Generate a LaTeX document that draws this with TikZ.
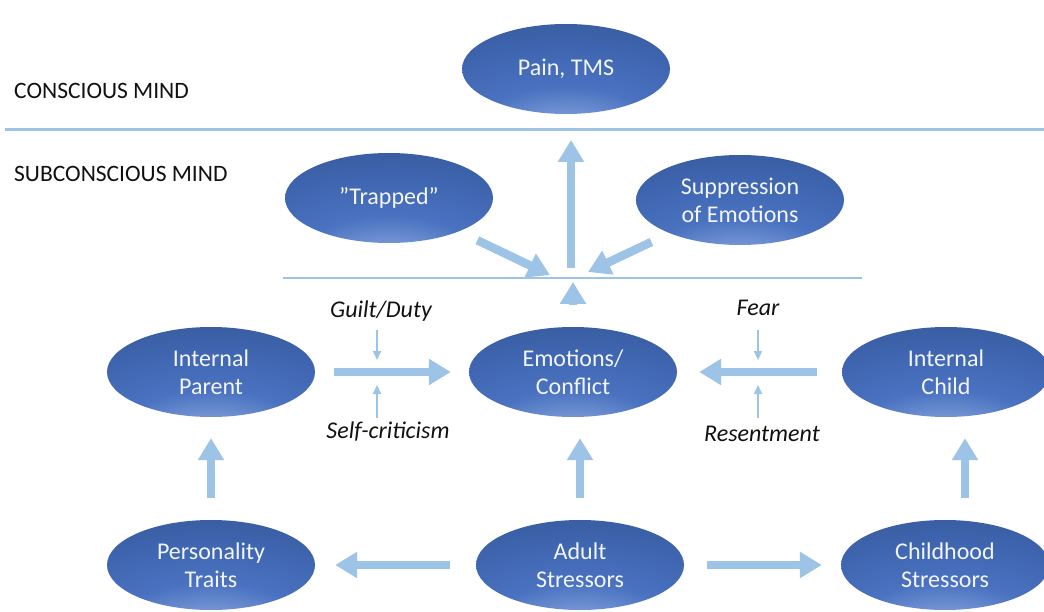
\documentclass[tikz,border=0pt]{standalone}
\usepackage{fontspec}
\setmainfont{Carlito}
\usetikzlibrary{arrows.meta,shapes.geometric,calc}

\definecolor{arrowblue}{HTML}{9DC3E6}
\definecolor{ovA}{HTML}{A9BEE8}
\definecolor{ovB}{HTML}{7C9CD8}
\definecolor{ovC}{HTML}{4A72C0}
\definecolor{ovD}{HTML}{3E64AE}
\definecolor{ovE}{HTML}{32548F}
\definecolor{ovF}{HTML}{28447C}
\definecolor{ovtext}{HTML}{F2F5FB}
\definecolor{labeltext}{HTML}{111111}

% light spot near the bottom of each oval, darkening towards the rim
\pgfdeclareradialshading{ovalshade}{\pgfpoint{0bp}{-42bp}}{%
  color(0bp)=(ovA); color(9bp)=(ovB); color(21bp)=(ovC);
  color(37bp)=(ovD); color(56bp)=(ovE); color(80bp)=(ovF)}

\tikzset{
  oval/.style={ellipse, minimum width=208pt, minimum height=90pt, inner sep=0pt,
    shading=ovalshade, text=ovtext, align=center,
    font=\fontsize{24}{28}\selectfont},
  mind/.style={inner sep=0pt, text=labeltext, font=\fontsize{23.5}{26}\selectfont},
  note/.style={inner sep=0pt, text=labeltext, font=\fontsize{24}{26}\selectfont\itshape},
  bigarr/.style={draw=arrowblue, line width=8.5pt, -{Triangle[width=25pt,length=22pt]}},
  smallarr/.style={draw=arrowblue, line width=1.6pt, -{Triangle[width=8pt,length=9pt]}},
  divider/.style={draw=arrowblue, line width=3pt},
}

\begin{document}
\begin{tikzpicture}[x=1pt,y=-1pt]
\useasboundingbox (0,0) rectangle (1044,612);
\clip (0,0) rectangle (1044,612);
\fill[white] (0,0) rectangle (1044,612);

% level labels and dividers
\node[mind, anchor=base west] (cons) at (14,99) {CONSCIOUS MIND};
\node[mind, anchor=base west] (subc) at (14,182) {SUBCONSCIOUS MIND};
\coordinate (divL) at (5,130);
\coordinate (divR) at (1044,130);
\draw[divider] (divL) -- (divR);
\coordinate (barL) at (283,278);
\coordinate (barR) at (862,278);
\draw[divider, line width=2.5pt] (barL) -- (barR);
\coordinate (hub) at (571,278);
\coordinate (tin) at (550,275);
\coordinate (sin) at (588,272);

% ovals
\node[oval] (pain) at (566,69) {Pain, TMS};
\node[oval] (trap) at (389,198) {”Trapped”};
\node[oval] (supp) at (740,200) {Suppression\\of Emotions};
\node[oval] (emo)  at (573,372) {Emotions/\\Conflict};
\node[oval] (par)  at (211,372) {Internal\\Parent};
\node[oval] (chi)  at (946,372) {Internal\\Child};
\node[oval] (per)  at (211,565) {Personality\\Traits};
\node[oval] (adu)  at (580,565) {Adult\\Stressors};
\node[oval] (chs)  at (945,565) {Childhood\\Stressors};

% flows into the conscious level
\draw[bigarr] ($(emo.north |- hub)+(0,27)$) -- ($(emo.north |- hub)+(0,4)$);
\draw[bigarr] ($(hub)+(0,-10)$) -- ($(hub |- divL)+(0,10)$);
\draw[bigarr, shorten <=98pt] (trap.center) -- (tin);
\draw[bigarr, shorten <=98pt] (supp.center) -- (sin);

% inner parent / inner child into the conflict
\draw[bigarr] ([xshift=19pt]par.east) -- ([xshift=-18pt]emo.west);
\draw[bigarr] ([xshift=-25pt]chi.west) -- ([xshift=22pt]emo.east);

% stressors
\draw[bigarr] ($(per.north)+(0,-22)$) -- ($(per.north |- par.south)+(0,21)$);
\draw[bigarr] ($(adu.north)+(0,-22)$) -- ($(adu.north |- emo.south)+(0,21)$);
\draw[bigarr] ($(chs.north)+(20,-22)$) -- ($(chs.north |- chi.south)+(20,21)$);
\draw[bigarr] ([xshift=-26pt]adu.west) -- ([xshift=20pt]per.east);
\draw[bigarr] ([xshift=23pt]adu.east) -- ([xshift=-19pt]chs.west);

% side influences
\node[note, anchor=base] (guilt) at (381,318) {Guilt/Duty};
\draw[smallarr] ($(guilt.base)+(-4,12)$) -- ($(guilt.base)+(-4,42)$);
\node[note, anchor=base] (selfc) at (388,438) {Self-criticism};
\draw[smallarr] ($(selfc.base)+(-11,-20)$) -- ($(selfc.base)+(-11,-53)$);
\node[note, anchor=base] (fear) at (758,316) {Fear};
\draw[smallarr] ($(fear.base)+(0,14)$) -- ($(fear.base)+(0,44)$);
\node[note, anchor=base] (resent) at (762,441) {Resentment};
\draw[smallarr] ($(resent.base)+(-4,-23)$) -- ($(resent.base)+(-4,-56)$);
\end{tikzpicture}
\end{document}
